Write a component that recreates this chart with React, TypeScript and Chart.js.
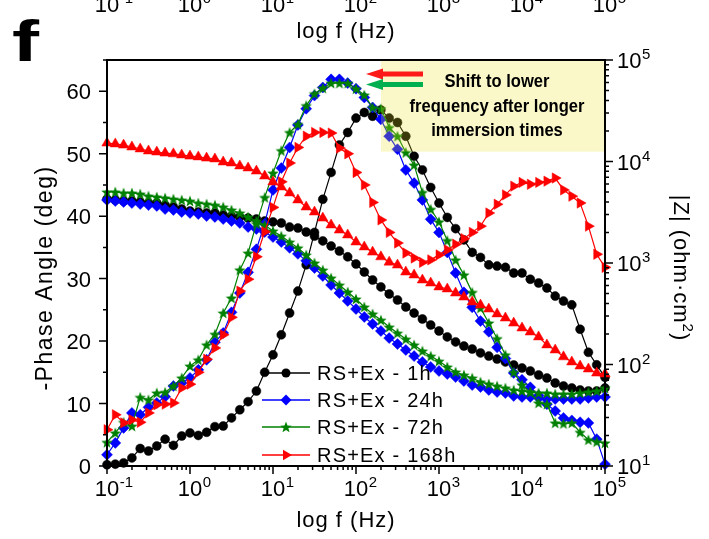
import React, { useEffect, useRef } from 'react';
import { Chart, registerables } from 'chart.js';

Chart.register(...registerables);

const W = 709;
const H = 539;
const PLOT = { left: 107, right: 605, top: 60, bottom: 466 };
const FONT = '"Liberation Sans", Arial, Helvetica, sans-serif';

// ---- data -------------------------------------------------------------
const freqHz = [
  0.1, 0.1259, 0.1585, 0.1995, 0.2512, 0.3162, 0.3981, 0.5012, 0.631, 0.7943,
  1, 1.259, 1.585, 1.995, 2.512, 3.162, 3.981, 5.012, 6.31, 7.943,
  10, 12.59, 15.85, 19.95, 25.12, 31.62, 39.81, 50.12, 63.1, 79.43,
  100, 125.9, 158.5, 199.5, 251.2, 316.2, 398.1, 501.2, 631, 794.3,
  1000, 1259, 1585, 1995, 2512, 3162, 3981, 5012, 6310, 7943,
  10000, 12590, 15850, 19950, 25120, 31620, 39810, 50120, 63100, 79430, 100000,
];

const phase1h = [
  0.2, 0.3, 0.5, 1.3, 2.8, 2.4, 3.2, 4.3, 3.3, 4.8,
  5.3, 4.9, 5.4, 6.3, 6.4, 7.7, 9.0, 10.3, 12.0, 15.0,
  17.8, 21.0, 24.5, 28.0, 32.2, 37.4, 42.7, 47.0, 51.4, 53.4,
  55.7, 56.6, 56.0, 57.0, 55.7, 55.0, 52.8, 49.6, 47.4, 44.6,
  42.1, 39.8, 38.0, 36.2, 34.2, 33.4, 32.2, 32.0, 31.8, 30.9,
  30.9, 29.9, 29.3, 28.5, 27.2, 26.4, 25.8, 21.9, 18.2, 16.2, 14.2,
];
const impedance1h = [
  4270, 4180, 4080, 4080, 3990, 3900, 3900, 3720, 3560, 3400,
  3250, 3180, 3110, 3110, 2970, 2900, 2840, 2770, 2710, 2590,
  2540, 2480, 2260, 2210, 2020, 1840, 1650, 1470, 1310, 1150,
  977, 815, 680, 581, 495, 432, 369, 321, 281, 245,
  214, 187, 167, 152, 142, 130, 121, 113, 106, 98.9,
  92.4, 86.3, 78.8, 73.6, 65.8, 61.4, 58.7, 56.1, 54.8, 54.8, 58.7,
];

const phase24h = [
  1.8, 3.7, 6.1, 8.5, 8.2, 9.4, 10.1, 11.1, 12.8, 13.3,
  14.1, 15.4, 17.0, 19.8, 21.3, 24.6, 27.7, 31.0, 34.7, 38.8,
  44.2, 47.7, 51.0, 54.6, 57.2, 59.3, 60.6, 61.9, 61.9, 61.3,
  60.4, 59.0, 57.4, 55.5, 52.8, 50.7, 47.4, 45.3, 42.6, 39.5,
  37.4, 34.2, 30.9, 27.8, 25.4, 23.2, 21.5, 19.0, 17.2, 14.9,
  13.8, 12.6, 11.3, 9.9, 8.8, 7.7, 7.3, 7.0, 6.9, 4.3, 0.3,
];
const impedance24h = [
  4180, 4080, 3990, 3900, 3810, 3720, 3650, 3400, 3330, 3180,
  3110, 3040, 2900, 2840, 2710, 2590, 2480, 2260, 2160, 2020,
  1800, 1610, 1410, 1230, 1050, 893, 745, 607, 506, 423,
  352, 294, 251, 214, 182, 159, 139, 121, 106, 94.5,
  86.3, 80.6, 75.3, 68.8, 62.8, 60.0, 56.1, 53.6, 52.4, 49.0,
  47.9, 47.9, 46.8, 45.7, 45.7, 45.7, 45.7, 45.7, 46.8, 47.9, 47.9,
];

const phase72h = [
  3.8, 5.3, 7.0, 6.4, 11.0, 10.6, 11.7, 11.8, 12.8, 14.1,
  16.0, 17.0, 19.4, 21.1, 24.5, 26.9, 31.4, 34.1, 38.8, 43.0,
  46.9, 50.5, 53.4, 54.7, 57.7, 59.6, 60.5, 61.3, 61.3, 61.3,
  60.4, 59.4, 57.4, 57.2, 54.2, 52.8, 50.2, 48.2, 43.8, 41.1,
  39.1, 36.1, 33.0, 30.6, 27.8, 25.3, 22.9, 20.4, 17.8, 15.0,
  13.0, 11.8, 10.1, 9.9, 6.9, 6.8, 6.9, 5.4, 4.2, 3.9, 3.7,
];
const impedance72h = [
  5010, 5010, 4900, 4900, 4790, 4570, 4470, 4370, 4270, 4180,
  4080, 3900, 3810, 3720, 3560, 3330, 3110, 2840, 2590, 2370,
  2070, 1840, 1610, 1410, 1200, 1000, 853, 711, 607, 518,
  442, 369, 315, 274, 234, 204, 178, 156, 136, 121,
  108, 94.5, 84.4, 78.8, 73.6, 67.3, 64.3, 61.4, 58.7, 56.1,
  54.8, 53.6, 52.4, 52.4, 51.2, 51.2, 51.2, 52.4, 53.6, 54.8, 58.7,
];

const phase168h = [
  5.8, 8.2, 6.9, 7.4, 7.0, 8.5, 9.8, 9.9, 10.1, 12.5,
  13.1, 15.0, 17.1, 18.9, 21.0, 23.8, 28.0, 29.9, 33.5, 37.5,
  41.4, 45.5, 48.5, 51.0, 52.8, 53.4, 53.4, 53.3, 50.9, 50.0,
  47.0, 45.0, 42.2, 39.4, 37.4, 35.7, 34.1, 33.3, 32.6, 33.0,
  33.8, 34.6, 35.5, 36.4, 37.4, 38.4, 40.5, 41.9, 43.4, 44.8,
  45.4, 45.1, 45.4, 45.6, 46.1, 44.2, 43.2, 42.1, 38.4, 33.9, 31.8,
];
const impedance168h = [
  15200, 14900, 14500, 13900, 13300, 12700, 12400, 12100, 11900, 11600,
  11300, 11100, 10800, 10600, 9890, 9670, 9040, 8630, 8050, 7190,
  6280, 5610, 4900, 4180, 3560, 3180, 2770, 2370, 2110, 1890,
  1610, 1440, 1280, 1150, 1020, 955, 815, 762, 680, 635,
  581, 555, 506, 462, 413, 385, 352, 315, 287, 256,
  229, 209, 187, 156, 139, 119, 106, 96.6, 90.3, 82.4, 80.6,
];

const seriesLabels = ['RS+Ex - 1h', 'RS+Ex - 24h', 'RS+Ex - 72h', 'RS+Ex - 168h'];
const seriesColors = ['#000000', '#0000ff', '#008000', '#ff0000'];
const xTickExponents = [-1, 0, 1, 2, 3, 4, 5];
const zTickExponents = [1, 2, 3, 4, 5];
const phaseTicks = [0, 10, 20, 30, 40, 50, 60];
const noteLines = ['Shift to lower', 'frequency after longer', 'immersion times'];
const xTitle = 'log f (Hz)';
const yTitle = '-Phase Angle (deg)';
const panelLetter = 'f';

// ---- drawing helpers -------------------------------------------------
function starPath(ctx: any, x: number, y: number, r: number) {
  ctx.beginPath();
  for (let k = 0; k < 10; k++) {
    const rad = k % 2 === 0 ? r : r * 0.42;
    const a = -Math.PI / 2 + (k * Math.PI) / 5;
    const px = x + rad * Math.cos(a);
    const py = y + rad * Math.sin(a);
    if (k === 0) ctx.moveTo(px, py);
    else ctx.lineTo(px, py);
  }
  ctx.closePath();
}

function makeStar(color: string, r: number) {
  const c = document.createElement('canvas');
  const s = Math.ceil(2 * r + 2);
  c.width = s;
  c.height = s;
  const g = c.getContext('2d') as any;
  g.fillStyle = color;
  starPath(g, s / 2, s / 2 + r * 0.1, r);
  g.fill();
  return c;
}

function drawMarker(ctx: any, kind: string, x: number, y: number, color: string) {
  ctx.save();
  ctx.fillStyle = color;
  if (kind === 'circle') {
    ctx.beginPath();
    ctx.arc(x, y, 4.5, 0, Math.PI * 2);
  } else if (kind === 'diamond') {
    ctx.beginPath();
    ctx.moveTo(x - 5.5, y);
    ctx.lineTo(x, y - 5.5);
    ctx.lineTo(x + 5.5, y);
    ctx.lineTo(x, y + 5.5);
    ctx.closePath();
  } else if (kind === 'star') {
    starPath(ctx, x, y + 0.5, 6);
  } else {
    ctx.beginPath();
    ctx.moveTo(x + 6, y);
    ctx.lineTo(x - 3, y - 5.2);
    ctx.lineTo(x - 3, y + 5.2);
    ctx.closePath();
  }
  ctx.fill();
  ctx.restore();
}

function drawArrow(ctx: any, tailX: number, tipX: number, y: number, color: string) {
  const headLen = 17;
  const headHalf = 5.5;
  const shaftHalf = 2.6;
  ctx.save();
  ctx.fillStyle = color;
  ctx.beginPath();
  ctx.moveTo(tipX, y);
  ctx.lineTo(tipX + headLen, y - headHalf);
  ctx.lineTo(tipX + headLen, y - shaftHalf);
  ctx.lineTo(tailX, y - shaftHalf);
  ctx.lineTo(tailX, y + shaftHalf);
  ctx.lineTo(tipX + headLen, y + shaftHalf);
  ctx.lineTo(tipX + headLen, y + headHalf);
  ctx.closePath();
  ctx.fill();
  ctx.restore();
}

function expText(e: number) {
  return e < 0 ? '-' + Math.abs(e) : String(e);
}

function powLabelCentered(ctx: any, e: number, x: number, baseline: number) {
  ctx.font = `22px ${FONT}`;
  ctx.textAlign = 'center';
  ctx.textBaseline = 'alphabetic';
  const w = ctx.measureText('10').width;
  ctx.fillText('10', x, baseline);
  ctx.font = `15px ${FONT}`;
  ctx.textAlign = 'left';
  ctx.fillText(expText(e), x + w / 2 + 0.5, baseline - 9);
}

function powLabelLeft(ctx: any, e: number, x: number, baseline: number) {
  ctx.font = `22px ${FONT}`;
  ctx.textAlign = 'left';
  ctx.textBaseline = 'alphabetic';
  const w = ctx.measureText('10').width;
  ctx.fillText('10', x, baseline);
  ctx.font = `15px ${FONT}`;
  ctx.fillText(expText(e), x + w + 0.5, baseline - 9);
}

const decorPlugin = {
  id: 'decor',
  afterDatasetsDraw(chart: any) {
    const ctx = chart.ctx;
    const xs = chart.scales.x;
    const zs = chart.scales.y2;
    ctx.save();
    const bx = xs.getPixelForValue(200);
    const by = zs.getPixelForValue(12500);
    ctx.fillStyle = 'rgba(235,227,35,0.25)';
    ctx.fillRect(bx, PLOT.top, PLOT.right - bx, by - PLOT.top);
    drawArrow(ctx, 423, 366, 74, '#ff1a1a');
    drawArrow(ctx, 423, 366, 84.5, '#00b050');
    ctx.fillStyle = '#000';
    ctx.font = `bold 18px ${FONT}`;
    ctx.textAlign = 'center';
    ctx.textBaseline = 'middle';
    const ly = [82, 107, 131];
    noteLines.forEach((s, i) => {
      ctx.save();
      ctx.translate(497, ly[i]);
      ctx.scale(0.92, 1);
      ctx.fillText(s, 0, 0);
      ctx.restore();
    });
    ctx.restore();
  },
  afterDraw(chart: any) {
    const ctx = chart.ctx;
    const xs = chart.scales.x;
    const ys = chart.scales.y;
    const zs = chart.scales.y2;
    ctx.save();
    ctx.fillStyle = '#000';
    ctx.strokeStyle = '#000';

    ctx.lineWidth = 2;
    ctx.strokeRect(PLOT.left, PLOT.top, PLOT.right - PLOT.left, PLOT.bottom - PLOT.top);

    ctx.lineWidth = 1.5;
    ctx.beginPath();
    xTickExponents.forEach((e) => {
      const x = xs.getPixelForValue(Math.pow(10, e));
      ctx.moveTo(x, PLOT.bottom);
      ctx.lineTo(x, PLOT.bottom + 8);
      if (e < 5) {
        for (let m = 2; m <= 9; m++) {
          const xm = xs.getPixelForValue(m * Math.pow(10, e));
          ctx.moveTo(xm, PLOT.bottom);
          ctx.lineTo(xm, PLOT.bottom + 4);
        }
      }
    });
    phaseTicks.forEach((v) => {
      const y = ys.getPixelForValue(v);
      ctx.moveTo(PLOT.left, y);
      ctx.lineTo(PLOT.left - 8, y);
      const ym = ys.getPixelForValue(v + 5);
      ctx.moveTo(PLOT.left, ym);
      ctx.lineTo(PLOT.left - 4, ym);
    });
    zTickExponents.forEach((e) => {
      const y = zs.getPixelForValue(Math.pow(10, e));
      ctx.moveTo(PLOT.right, y);
      ctx.lineTo(PLOT.right + 8, y);
      if (e < 5) {
        for (let m = 2; m <= 9; m++) {
          const ym = zs.getPixelForValue(m * Math.pow(10, e));
          ctx.moveTo(PLOT.right, ym);
          ctx.lineTo(PLOT.right + 4, ym);
        }
      }
    });
    ctx.stroke();

    xTickExponents.forEach((e) => {
      const x = xs.getPixelForValue(Math.pow(10, e));
      powLabelCentered(ctx, e, x, 496);
      powLabelCentered(ctx, e, x, 12);
    });
    ctx.font = `22px ${FONT}`;
    ctx.textAlign = 'right';
    ctx.textBaseline = 'alphabetic';
    phaseTicks.forEach((v) => {
      const y = ys.getPixelForValue(v);
      ctx.fillText(String(v), 91, y + 8);
    });
    zTickExponents.forEach((e) => {
      const y = zs.getPixelForValue(Math.pow(10, e));
      powLabelLeft(ctx, e, 617, y + 8);
    });

    ctx.letterSpacing = '1px';
    ctx.font = `22px ${FONT}`;
    ctx.textAlign = 'center';
    ctx.textBaseline = 'alphabetic';
    ctx.fillText(xTitle, 346, 527);
    ctx.fillText(xTitle, 346, 38);

    ctx.save();
    ctx.translate(46, 278);
    ctx.rotate(-Math.PI / 2);
    ctx.font = `23px ${FONT}`;
    ctx.letterSpacing = '1.5px';
    ctx.textBaseline = 'middle';
    ctx.fillText(yTitle, 0, 0);
    ctx.restore();

    ctx.save();
    ctx.translate(681, 268);
    ctx.rotate(Math.PI / 2);
    ctx.textAlign = 'left';
    ctx.textBaseline = 'alphabetic';
    const a = '|Z| (ohm·cm';
    const b = '2';
    const c = ')';
    ctx.font = `22px ${FONT}`;
    const wa = ctx.measureText(a).width;
    const wc = ctx.measureText(c).width;
    ctx.font = `15px ${FONT}`;
    const wb = ctx.measureText(b).width;
    const x0 = -(wa + wb + wc) / 2;
    const base = 7;
    ctx.font = `22px ${FONT}`;
    ctx.fillText(a, x0, base);
    ctx.font = `15px ${FONT}`;
    ctx.fillText(b, x0 + wa, base - 9);
    ctx.font = `22px ${FONT}`;
    ctx.fillText(c, x0 + wa + wb, base);
    ctx.restore();

    const markers = ['circle', 'diamond', 'star', 'triRight'];
    const rows = [373, 400, 427, 455];
    ctx.font = `20px ${FONT}`;
    ctx.letterSpacing = '1.2px';
    ctx.textAlign = 'left';
    ctx.textBaseline = 'middle';
    seriesLabels.forEach((lab, i) => {
      const y = rows[i];
      ctx.strokeStyle = seriesColors[i];
      ctx.lineWidth = 1.3;
      ctx.beginPath();
      ctx.moveTo(262, y);
      ctx.lineTo(310, y);
      ctx.stroke();
      drawMarker(ctx, markers[i], 286, y, seriesColors[i]);
      ctx.fillStyle = '#000';
      ctx.fillText(lab, 317, y + 1);
    });

    ctx.letterSpacing = '0px';
    ctx.save();
    ctx.translate(12, 61);
    ctx.scale(1.4, 1);
    ctx.font = `bold 58px ${FONT}`;
    ctx.textAlign = 'left';
    ctx.textBaseline = 'alphabetic';
    ctx.fillStyle = '#000';
    ctx.fillText(panelLetter, 0, 0);
    ctx.restore();

    ctx.restore();
  },
};

export default function App() {
  const ref = useRef<HTMLCanvasElement | null>(null);

  useEffect(() => {
    const canvas = ref.current;
    if (!canvas) return;
    const star = makeStar(seriesColors[2], 6);

    const phaseStyle: any[] = [
      { pointStyle: 'circle', pointRadius: 4.5, pointRotation: 0 },
      { pointStyle: 'rectRot', pointRadius: 5.5, pointRotation: 0 },
      { pointStyle: star, pointRadius: 6, pointRotation: 0 },
      { pointStyle: 'triangle', pointRadius: 6, pointRotation: 90 },
    ];
    const zStyle: any[] = [
      { pointStyle: 'circle', pointRadius: 4.5, pointRotation: 0 },
      { pointStyle: 'rectRot', pointRadius: 5.5, pointRotation: 0 },
      { pointStyle: star, pointRadius: 6, pointRotation: 0 },
      { pointStyle: 'triangle', pointRadius: 6, pointRotation: 0 },
    ];
    const phases = [phase1h, phase24h, phase72h, phase168h];
    const zs = [impedance1h, impedance24h, impedance72h, impedance168h];

    const datasets: any[] = [];
    [3, 2, 1, 0].forEach((i) => {
      const common = {
        borderColor: seriesColors[i],
        backgroundColor: seriesColors[i],
        pointBackgroundColor: seriesColors[i],
        pointBorderColor: seriesColors[i],
        pointBorderWidth: 0.5,
        borderWidth: 1.2,
        tension: 0,
        clip: false,
      };
      datasets.push({
        ...common,
        ...phaseStyle[i],
        label: seriesLabels[i] + ' phase',
        yAxisID: 'y',
        data: freqHz.map((f, k) => ({ x: f, y: phases[i][k] })),
      });
      datasets.push({
        ...common,
        ...zStyle[i],
        label: seriesLabels[i] + ' |Z|',
        yAxisID: 'y2',
        data: freqHz.map((f, k) => ({ x: f, y: zs[i][k] })),
      });
    });

    const chart = new Chart(canvas, {
      type: 'line',
      data: { datasets },
      plugins: [decorPlugin],
      options: {
        responsive: false,
        animation: false,
        devicePixelRatio: 1,
        events: [],
        layout: { padding: { top: PLOT.top, left: 0, right: 0, bottom: 0 } },
        plugins: {
          legend: { display: false },
          tooltip: { enabled: false },
          title: { display: false },
        },
        scales: {
          x: {
            type: 'logarithmic',
            position: 'bottom',
            min: 0.1,
            max: 100000,
            grid: { display: false },
            border: { display: false },
            ticks: { display: false },
            afterFit: (s: any) => {
              s.height = H - PLOT.bottom;
            },
          },
          y: {
            type: 'linear',
            position: 'left',
            min: 0,
            max: 65,
            grid: { display: false },
            border: { display: false },
            ticks: { display: false },
            afterFit: (s: any) => {
              s.width = PLOT.left;
            },
          },
          y2: {
            type: 'logarithmic',
            position: 'right',
            min: 10,
            max: 100000,
            grid: { display: false },
            border: { display: false },
            ticks: { display: false },
            afterFit: (s: any) => {
              s.width = W - PLOT.right;
            },
          },
        },
      } as any,
    });

    return () => {
      chart.destroy();
    };
  }, []);

  return (
    <div style={{ position: 'fixed', left: 0, top: 0, width: W, height: H, background: '#fff' }}>
      <canvas ref={ref} width={W} height={H} style={{ display: 'block', width: W, height: H }} />
    </div>
  );
}
